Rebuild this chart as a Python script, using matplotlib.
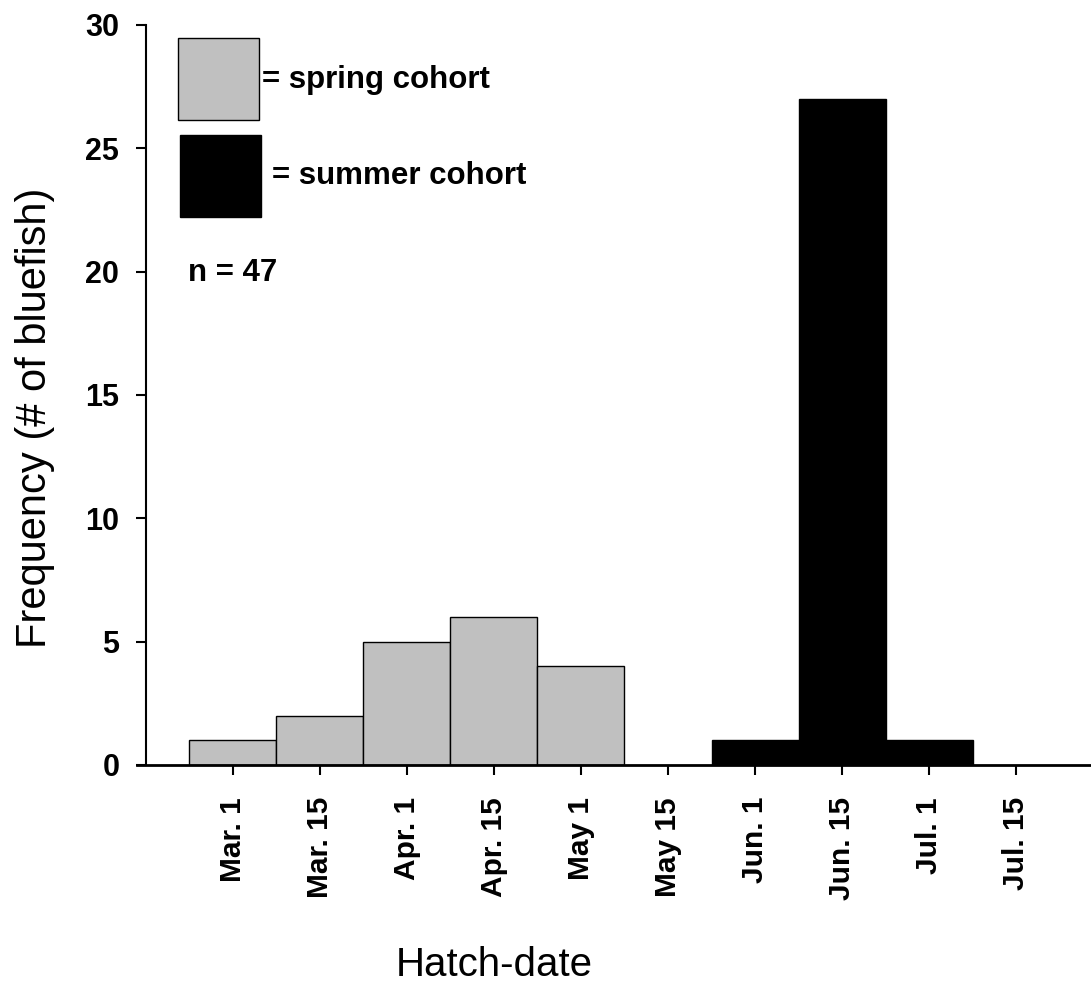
import matplotlib
matplotlib.use("Agg")
import matplotlib.pyplot as plt
from matplotlib.patches import Rectangle
import numpy as np

### Data ###
dates = ["Mar. 1", "Mar. 15", "Apr. 1", "Apr. 15", "May 1",
         "May 15", "Jun. 1", "Jun. 15", "Jul. 1", "Jul. 15"]
spring = [1, 2, 5, 6, 4, 0, 0, 0, 0, 0]
summer = [0, 0, 0, 0, 0, 0, 1, 27, 1, 0]
n_total = 47
### End of data ###

plt.rcParams["font.family"] = ["Liberation Sans", "DejaVu Sans"]
gray = "#c0c0c0"

fig = plt.figure(figsize=(10.91, 10.0), dpi=100)
ax = fig.add_axes([0.1256, 0.235, 0.8744, 0.74])

# spines first: set_position resets the tick objects
for s in ["top", "right"]:
    ax.spines[s].set_visible(False)
ax.spines["left"].set_position(("data", -1.0))
ax.spines["left"].set_linewidth(1.5)
ax.spines["bottom"].set_linewidth(2.0)

x = np.arange(len(dates))
spring_idx = [i for i, v in enumerate(spring) if v > 0]
summer_idx = [i for i, v in enumerate(summer) if v > 0]
ax.bar(x[spring_idx], [spring[i] for i in spring_idx], width=1.0,
       color=gray, edgecolor="black", linewidth=1.0)
ax.bar(x[summer_idx], [summer[i] for i in summer_idx], width=1.0,
       color="black", edgecolor="black", linewidth=1.0)

ax.set_xlim(-1.1, 9.86)
ax.set_ylim(0, 30)
ax.set_xticks(x)
ax.set_xticklabels(dates, rotation=90, fontsize=21.5, fontweight="bold",
                   va="top", ha="center")
ax.set_yticks(np.arange(0, 31, 5))
ax.set_yticklabels([str(v) for v in range(0, 31, 5)], fontsize=22,
                   fontweight="bold")
ax.tick_params(axis="x", length=7, width=1.5, pad=16, direction="out")
ax.tick_params(axis="y", length=7, width=1.5, pad=12, direction="out")

# legend boxes drawn by hand
ax.add_patch(Rectangle((0.043, 0.8716), 0.085, 0.111, transform=ax.transAxes,
                       facecolor=gray, edgecolor="black", linewidth=1.0,
                       clip_on=False))
ax.add_patch(Rectangle((0.045, 0.7405), 0.085, 0.111, transform=ax.transAxes,
                       facecolor="black", edgecolor="black", linewidth=1.0,
                       clip_on=False))
ax.text(0.131, 0.9257, "= spring cohort", transform=ax.transAxes,
        fontsize=22.5, fontweight="bold", va="center", ha="left")
ax.text(0.1415, 0.796, "= summer cohort", transform=ax.transAxes,
        fontsize=22.5, fontweight="bold", va="center", ha="left")
ax.text(0.0535, 0.665, f"n = {n_total}", transform=ax.transAxes,
        fontsize=22.5, fontweight="bold", va="center", ha="left")

fig.text(494 / 1091, 0.035, "Hatch-date", fontsize=29, ha="center",
         va="center")
fig.text(0.032, 0.582, "Frequency (# of bluefish)", fontsize=30,
         rotation=90, ha="center", va="center")

fig.savefig("out.png", dpi=100)
